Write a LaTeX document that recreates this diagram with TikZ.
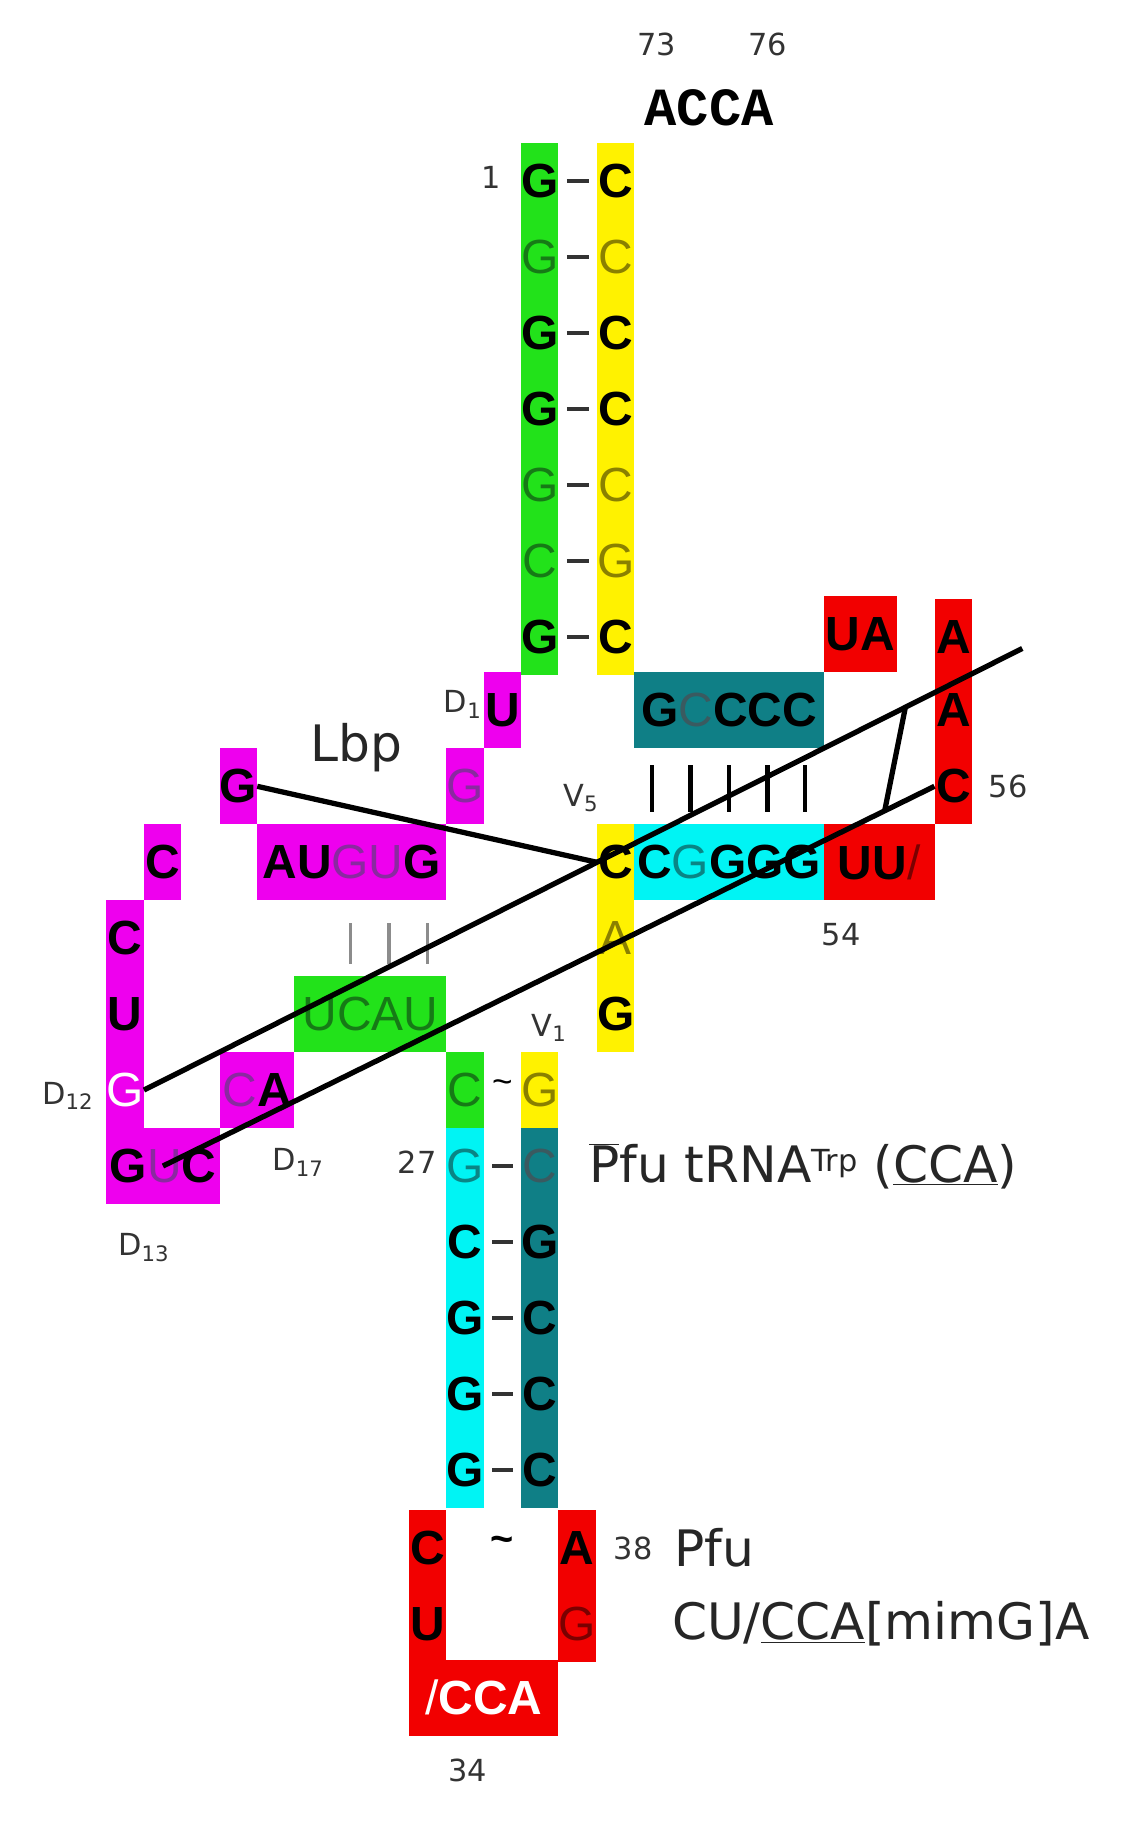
\documentclass[tikz,border=0pt]{standalone}
\usepackage{fontspec}
\setmainfont{Liberation Sans}
\newfontfamily\monob{Liberation Mono}
\newfontfamily\labf{DejaVu Sans}
\definecolor{gr}{HTML}{22E21A}
\definecolor{ye}{HTML}{FFF200}
\definecolor{cy}{HTML}{00F4F4}
\definecolor{te}{HTML}{0F7F86}
\definecolor{rd}{HTML}{F20000}
\definecolor{mg}{HTML}{EE00EE}
\definecolor{lgr}{HTML}{167A16}
\definecolor{lye}{HTML}{8A8000}
\definecolor{lcy}{HTML}{0A8585}
\definecolor{lte}{HTML}{3A5A60}
\definecolor{lrd}{HTML}{7A0000}
\definecolor{lmg}{HTML}{8A2AA0}
\newcommand\lt[2]{{\mdseries\color{#1}#2}}
\tikzset{
 cell/.style={inner sep=0pt, minimum width=32pt, minimum height=65pt, font=\fontsize{41}{41}\selectfont\bfseries, text=black},
 pairdash/.style={line width=3pt, shorten <=7pt, shorten >=7pt, black!80},
 lab/.style={font=\labf\fontsize{26}{26}\selectfont, text=black!80, inner sep=1pt},
 big/.style={font=\labf\fontsize{43}{43}\selectfont, text=black!85, inner sep=1pt},
 bar/.style={line width=4pt},
 lbar/.style={line width=3pt, black!45},
 bl/.style={line width=4.5pt, black}
}
\begin{document}
\begin{tikzpicture}[x=1pt,y=-1pt]
\useasboundingbox (0,0) rectangle (975,1580);
% acceptor stem
\foreach \i/\l/\r [count=\k] in {
 155/G/C, 220/\lt{lgr}{G}/\lt{lye}{C}, 285/G/C, 350/G/C, 415/\lt{lgr}{G}/\lt{lye}{C}, 480/\lt{lgr}{C}/\lt{lye}{G}, 545/G/C}{
 \node[cell, fill=gr] (a\k) at (462,\i) {\l};
 \node[cell, fill=ye] (b\k) at (527,\i) {\r};
 \draw[pairdash] (a\k.east) -- (b\k.west);
}
\node[lab] (n1) at (420,152) {1};
\node[lab] (n73) at (562,38) {73};
\node[lab] (n76) at (657,38) {76};
\node[font=\monob\fontsize{46}{46}\selectfont\bfseries, inner sep=0] (acca) at (607,92) {ACCA};
% D arm
\node[cell, fill=mg] (dU) at (430,608) {U};
\node[lab] (lD1) at (396,603) {D\textsubscript{1}};
\node[cell, fill=mg] (dG) at (398,673) {\lt{lmg}{G}};
\node[cell, fill=mg, minimum width=162pt] (augug) at (301,738) {AU\lt{lmg}{GU}G};
\node[cell, fill=mg] (dG2) at (204,673) {G};
\node[big] (lbp) at (305,640) {Lbp};
\node[cell, fill=mg] (dC) at (139,738) {C};
\node[cell, fill=mg] (dC2) at (107,803) {C};
\node[cell, fill=mg] (dU2) at (107,868) {U};
\node[cell, fill=mg] (dG12) at (107,933) {\textcolor{white}{\mdseries G}};
\node[cell, fill=mg, minimum width=97pt] (guc) at (139.5,998) {G\lt{lmg}{U}C};
\node[cell, fill=mg, minimum width=64pt] (ca) at (220,933) {\lt{lmg}{C}A};
\node[lab] (lD12) at (58,938) {D\textsubscript{12}};
\node[lab] (lD17) at (255,995) {D\textsubscript{17}};
\node[lab] (lD13) at (123,1068) {D\textsubscript{13}};
\node[cell, fill=gr, minimum width=130pt] (ucau) at (317,868) {\lt{lgr}{UCAU}};
\foreach \x in {300,333,366}{\draw[lbar] (\x,790) -- (\x,825);}
% anticodon stem
\node[cell, fill=gr] (c26) at (398,933) {\lt{lgr}{C}};
\node[cell, fill=ye] (g44) at (462,933) {\lt{lye}{G}};
\node[font=\fontsize{30}{30}\selectfont, inner sep=0] (w1) at (430,930) {\textasciitilde};
\node[lab] (lV1) at (470,880) {V\textsubscript{1}};
\foreach \i/\l/\r [count=\k] in {998/\lt{lcy}{G}/\lt{lte}{C}, 1063/C/G, 1128/G/C, 1193/G/C, 1258/G/C}{
 \node[cell, fill=cy] (p\k) at (398,\i) {\l};
 \node[cell, fill=te] (q\k) at (462,\i) {\r};
 \draw[pairdash] (p\k.east) -- (q\k.west);
}
\node[lab] (n27) at (357,995) {27};
% anticodon loop
\node[cell, fill=rd] (lC) at (366,1325) {C};
\node[cell, fill=rd] (lU) at (366,1390) {U};
\node[cell, fill=rd, minimum width=128pt] (lcca) at (414,1453) {\textcolor{white}{\lt{white}{/}CCA}};
\node[cell, fill=rd] (lA) at (494,1325) {A};
\node[cell, fill=rd] (lG) at (494,1390) {\lt{lrd}{G}};
\node[font=\bfseries\fontsize{34}{34}\selectfont, inner sep=0] (w2) at (430,1322) {\textasciitilde};
\node[lab] (n34) at (400,1515) {34};
\node[lab] (n38) at (542,1325) {38};
\node[big, anchor=west] (pfu2) at (576,1325) {Pfu};
\node[big, anchor=west] (seq) at (574,1390) {CU/\underline{CCA}[mimG]A};
\node[big, anchor=west] (title) at (503,998) {$\overline{\mbox{P}}$fu tRNA\textsuperscript{\fontsize{26}{26}\selectfont Trp} (\underline{CCA})};
% variable + T arm
\node[cell, fill=ye] (v5) at (527,738) {C};
\node[cell, fill=ye] (v6) at (527,803) {\lt{lye}{A}};
\node[cell, fill=ye] (v7) at (527,868) {G};
\node[lab] (lV5) at (497,683) {V\textsubscript{5}};
\node[cell, fill=cy, minimum width=162pt] (cgggg) at (624,738) {C\lt{lcy}{G}GGG};
\node[cell, fill=rd, minimum width=95pt] (uu) at (752.5,738) {UU\lt{lrd}{/}};
\node[lab] (n54) at (720,800) {54};
\node[cell, fill=te, minimum width=162pt] (gcccc) at (624,608) {G\lt{lte}{C}CCC};
\foreach \x in {558,591,624,657,689}{\draw[bar] (\x,655) -- (\x,695);}
\node[cell, fill=rd, minimum width=63pt] (ua) at (736.5,543) {UA};
\node[cell, fill=rd] (tA1) at (816,545) {A};
\node[cell, fill=rd] (tA2) at (816,608) {A};
\node[cell, fill=rd] (tC) at (816,673) {C};
\node[lab] (n56) at (863,673) {56};
% tertiary lines
\coordinate (ne) at (875,555);
\coordinate (k1) at (775,605);
\coordinate (k2) at (757,695);
\draw[bl] (dG2.east) -- (v5.west);
\draw[bl] (dG12.east) -- (ne);
\draw[bl] (guc.center) -- (tC.west);
\draw[bl] (k1) -- (k2);
\end{tikzpicture}
\end{document}
